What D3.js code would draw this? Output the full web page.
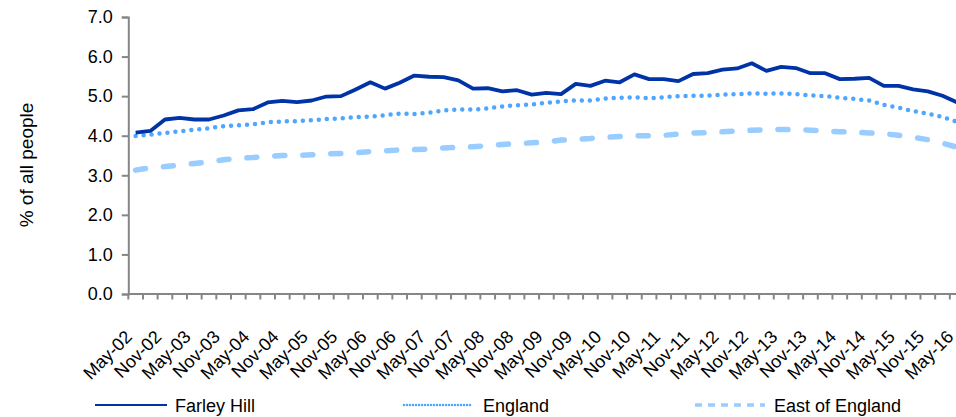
<!DOCTYPE html>
<html>
<head>
<meta charset="utf-8">
<script src="https://cdn.jsdelivr.net/npm/d3@7"></script>
<style>
  html, body { margin: 0; padding: 0; background: #fff; }
  svg { display: block; font-family: "Liberation Sans", Arial, sans-serif; }
</style>
</head>
<body>
<svg id="chart" width="956" height="417"></svg>
<script>
const categories = [
  "May-02","Aug-02","Nov-02","Feb-03","May-03","Aug-03","Nov-03","Feb-04",
  "May-04","Aug-04","Nov-04","Feb-05","May-05","Aug-05","Nov-05","Feb-06",
  "May-06","Aug-06","Nov-06","Feb-07","May-07","Aug-07","Nov-07","Feb-08",
  "May-08","Aug-08","Nov-08","Feb-09","May-09","Aug-09","Nov-09","Feb-10",
  "May-10","Aug-10","Nov-10","Feb-11","May-11","Aug-11","Nov-11","Feb-12",
  "May-12","Aug-12","Nov-12","Feb-13","May-13","Aug-13","Nov-13","Feb-14",
  "May-14","Aug-14","Nov-14","Feb-15","May-15","Aug-15","Nov-15","Feb-16",
  "May-16"
];

const farleyHill = [
  4.08,4.12,4.41,4.45,4.41,4.41,4.51,4.64,4.67,4.84,4.88,4.85,4.89,4.99,
  5.00,5.17,5.35,5.19,5.34,5.52,5.49,5.48,5.40,5.19,5.20,5.12,5.15,5.04,
  5.08,5.05,5.31,5.26,5.39,5.35,5.55,5.43,5.43,5.38,5.56,5.58,5.67,5.70,
  5.83,5.64,5.74,5.71,5.58,5.58,5.43,5.44,5.46,5.26,5.26,5.17,5.12,5.01,
  4.84
];

const england = [
  3.99,4.03,4.07,4.11,4.15,4.19,4.24,4.26,4.29,4.34,4.36,4.37,4.39,4.42,
  4.44,4.47,4.48,4.52,4.56,4.55,4.58,4.64,4.66,4.66,4.69,4.74,4.77,4.79,
  4.83,4.87,4.89,4.89,4.94,4.96,4.97,4.95,4.97,5.00,5.01,5.01,5.04,5.05,
  5.07,5.06,5.07,5.05,5.02,5.00,4.96,4.93,4.89,4.78,4.71,4.62,4.56,4.47,
  4.35
];

const eastOfEngland = [
  3.13,3.19,3.22,3.26,3.30,3.34,3.39,3.43,3.45,3.48,3.50,3.50,3.52,3.54,
  3.55,3.57,3.60,3.62,3.64,3.65,3.66,3.69,3.71,3.72,3.75,3.78,3.80,3.82,
  3.84,3.89,3.91,3.93,3.96,3.98,4.00,4.00,4.01,4.04,4.07,4.08,4.10,4.12,
  4.14,4.15,4.16,4.15,4.14,4.12,4.10,4.09,4.07,4.05,4.01,3.96,3.90,3.81,
  3.71
];

const yTicks = [0, 1, 2, 3, 4, 5, 6, 7];
const seriesNames = ["Farley Hill", "England", "East of England"];

const svg = d3.select("#chart");
const FONT = 18;
const axisColor = "#868686";

const plotLeft = 128.3, step = 14.67;
const x = d3.scaleBand()
  .domain(d3.range(categories.length))
  .range([plotLeft, plotLeft + step * categories.length])
  .paddingInner(0).paddingOuter(0);
const xc = i => x(i) + x.bandwidth() / 2;
const y = d3.scaleLinear().domain([0, 7]).range([294, 17]);

// Y axis
const yAxis = d3.axisLeft(y).tickValues(yTicks).tickSize(6.5).tickPadding(9)
  .tickFormat(d3.format(".1f"));
const gy = svg.append("g").attr("transform", `translate(${plotLeft},0)`).call(yAxis);
gy.select(".domain").attr("stroke", axisColor).attr("stroke-width", 2);
gy.selectAll(".tick line").attr("stroke", axisColor).attr("stroke-width", 2);
gy.selectAll(".tick text").attr("font-size", FONT).attr("fill", "#000")
  .attr("font-family", "Liberation Sans, Arial, sans-serif");

// X axis: ticks at category boundaries
const boundaries = d3.range(categories.length + 1);
const gx = svg.append("g");
gx.append("line")
  .attr("x1", plotLeft).attr("x2", plotLeft + step * categories.length)
  .attr("y1", y(0)).attr("y2", y(0))
  .attr("stroke", axisColor).attr("stroke-width", 2);
const bx = d => d < categories.length ? x(d) : x(categories.length - 1) + x.bandwidth();
gx.selectAll("line.tk").data(boundaries).enter().append("line")
  .attr("class", "tk")
  .attr("x1", bx).attr("x2", bx)
  .attr("y1", y(0)).attr("y2", y(0) + 5.5)
  .attr("stroke", axisColor).attr("stroke-width", 2);

gx.selectAll("text.xl").data(categories.map((c, i) => ({c, i})).filter(d => d.i % 2 === 0))
  .enter().append("text")
  .attr("class", "xl")
  .attr("font-size", FONT)
  .attr("text-anchor", "end")
  .attr("transform", d => `translate(${xc(d.i) - 2.5},${y(0) + 44}) rotate(-45)`)
  .text(d => d.c);

// Lines
const line = d3.line().x((d, i) => xc(i)).y(d => y(d));

svg.append("path").datum(eastOfEngland)
  .attr("d", line).attr("fill", "none")
  .attr("stroke", "#99ccff").attr("stroke-width", 5.5)
  .attr("stroke-dasharray", "10 18").attr("stroke-linecap", "round");

svg.append("path").datum(england)
  .attr("d", line).attr("fill", "none")
  .attr("stroke", "#4da6ff").attr("stroke-width", 4.5)
  .attr("stroke-dasharray", "0 8").attr("stroke-linecap", "round");

svg.append("path").datum(farleyHill)
  .attr("d", line).attr("fill", "none")
  .attr("stroke", "#0033a6").attr("stroke-width", 3.8)
  .attr("stroke-linejoin", "round");

// Y title
svg.append("text")
  .attr("transform", "translate(33,165) rotate(-90)")
  .attr("text-anchor", "middle")
  .attr("font-size", 19)
  .text("% of all people");

// Legend
const legend = [
  {name: seriesNames[0], x1: 95, x2: 167, tx: 175, stroke: "#0033a6", w: 2, dash: null, cap: "butt"},
  {name: seriesNames[1], x1: 404, x2: 472, tx: 483, stroke: "#4da6ff", w: 2.5, dash: "0 3", cap: "round"},
  {name: seriesNames[2], x1: 695, x2: 765, tx: 774, stroke: "#99ccff", w: 3.5, dash: "7 6", cap: "butt"}
];
const lg = svg.append("g");
legend.forEach(l => {
  lg.append("line").attr("x1", l.x1).attr("x2", l.x2).attr("y1", 405).attr("y2", 405)
    .attr("stroke", l.stroke).attr("stroke-width", l.w)
    .attr("stroke-dasharray", l.dash).attr("stroke-linecap", l.cap);
  lg.append("text").attr("x", l.tx).attr("y", 411.5).attr("font-size", FONT).text(l.name);
});
</script>
</body>
</html>
